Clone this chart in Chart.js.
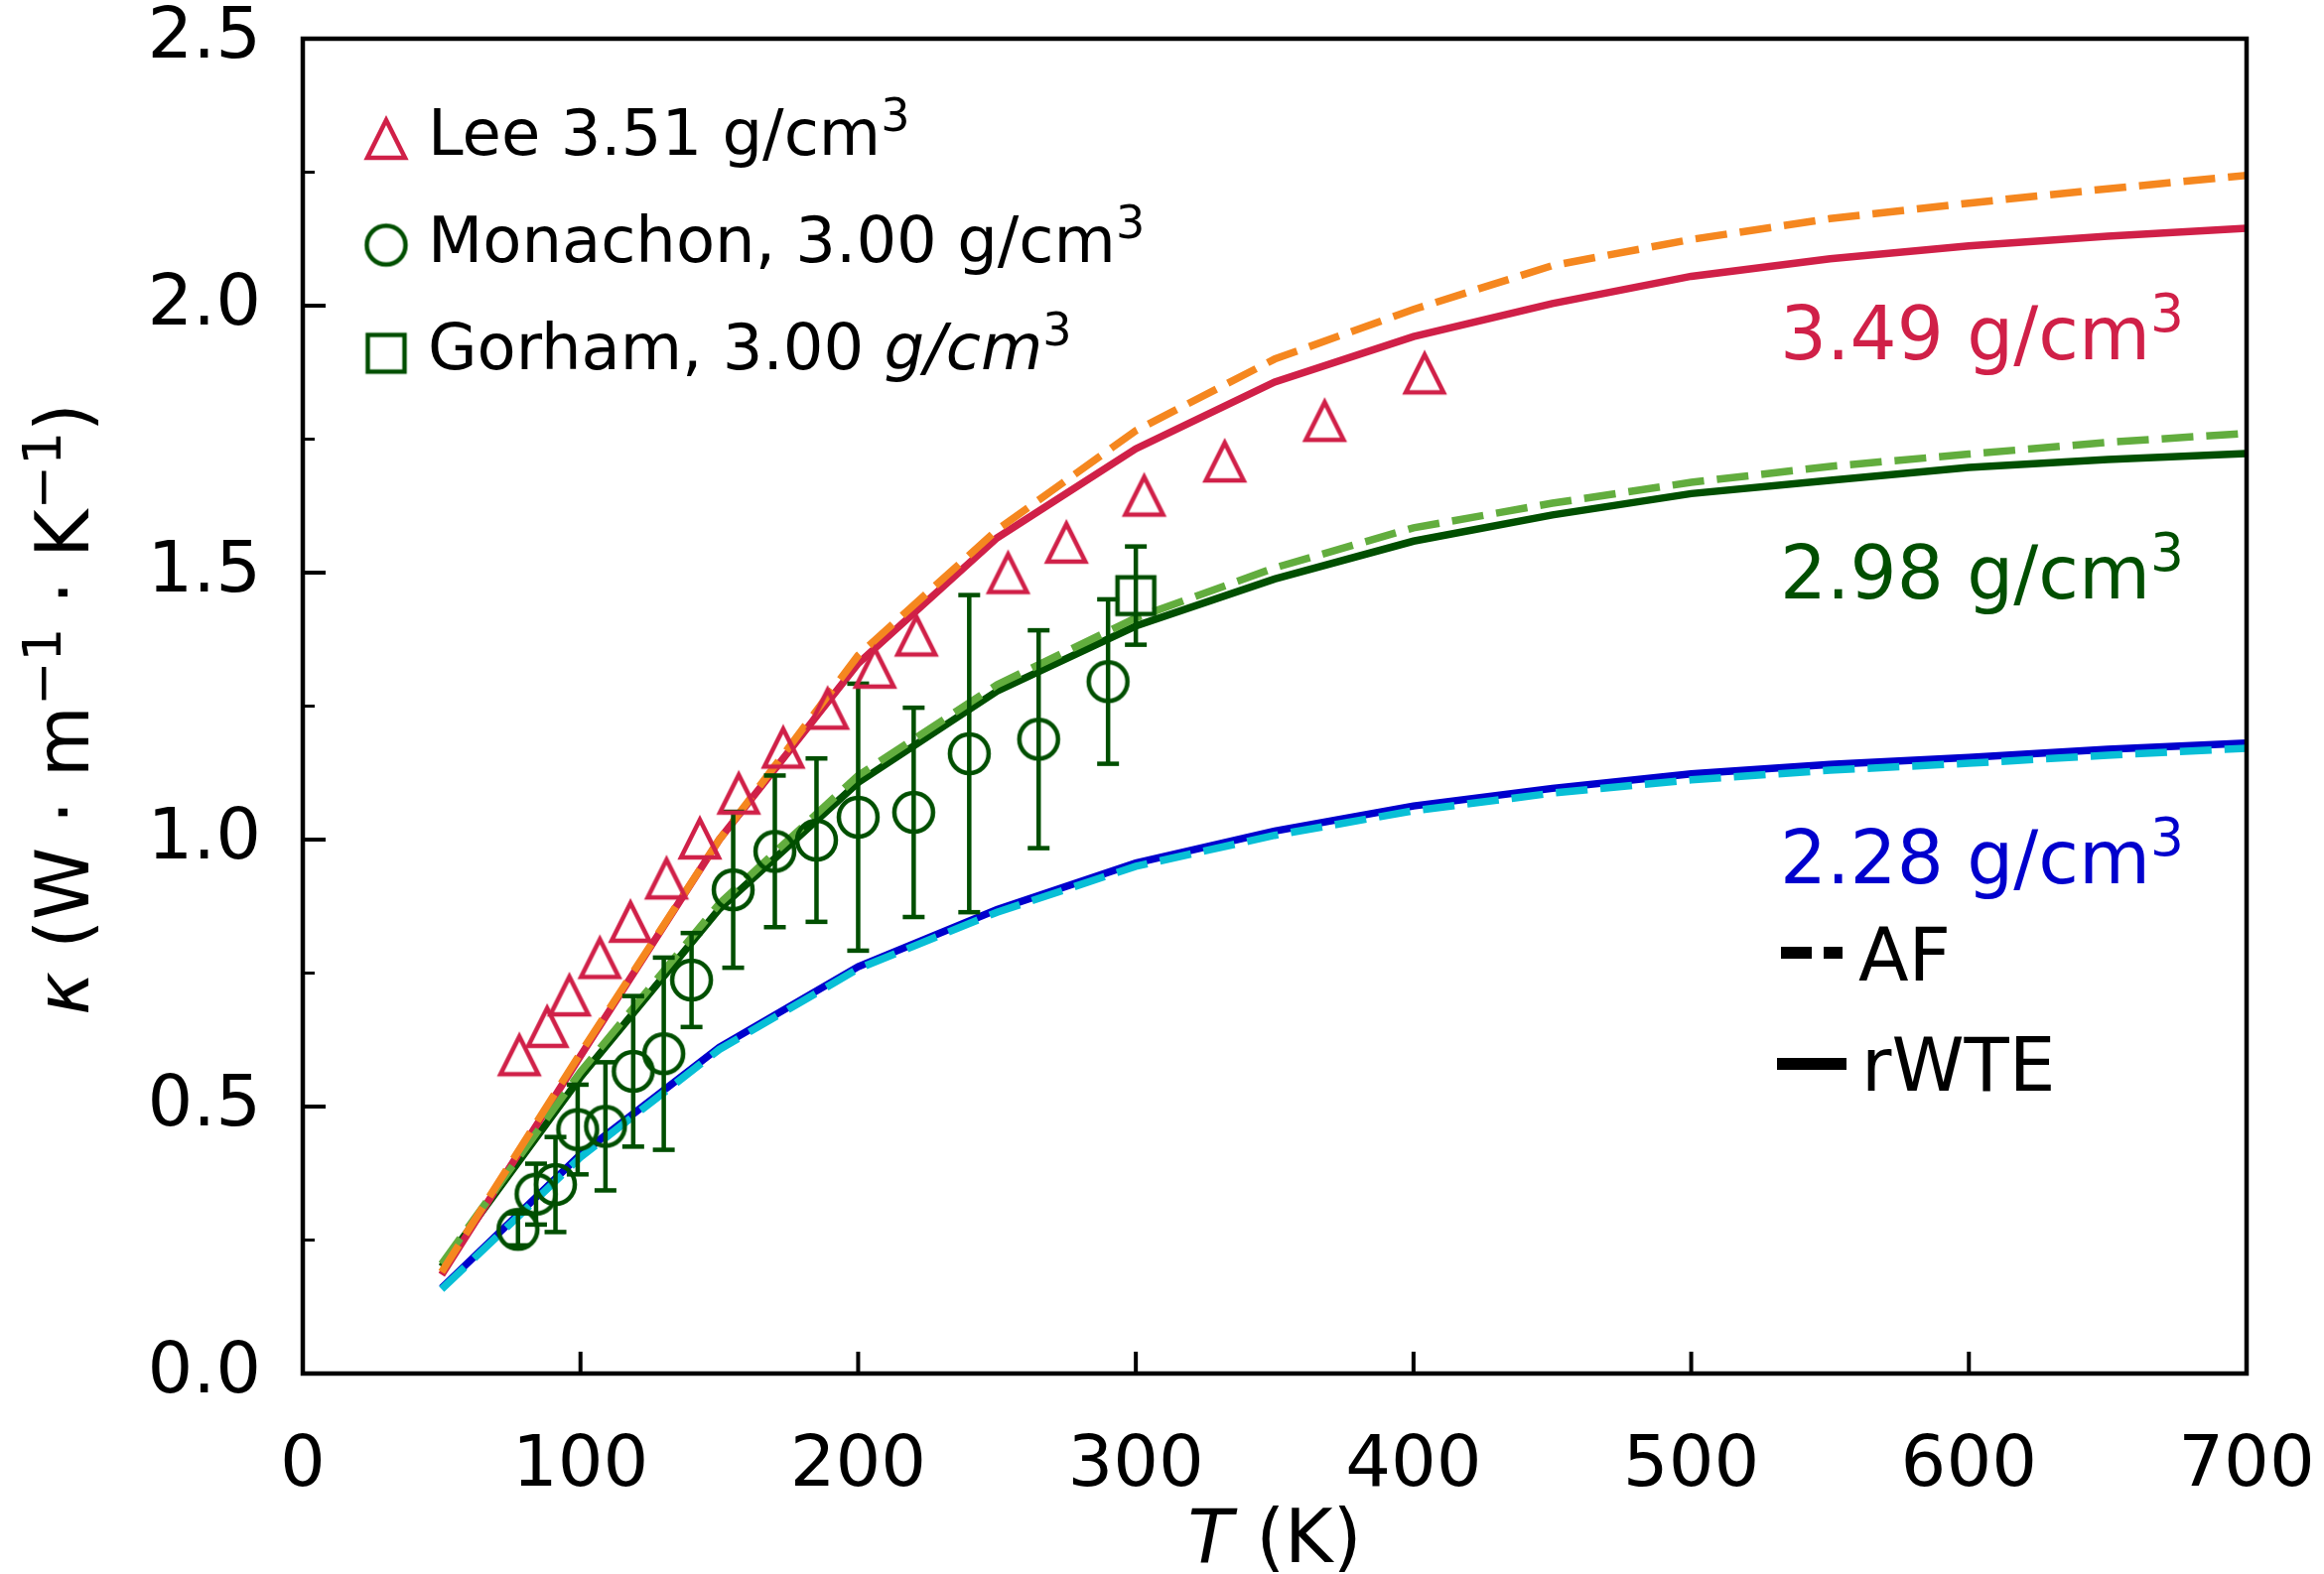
<!DOCTYPE html>
<html>
<head>
<meta charset="utf-8">
<script src="https://cdn.jsdelivr.net/npm/chart.js@4.4.1/dist/chart.umd.min.js"></script>
<style>
  html, body { margin: 0; padding: 0; background: #fff; }
  #wrap { width: 2341px; height: 1586px; }
</style>
</head>
<body>
<div id="wrap"><canvas id="c" width="2341" height="1586"></canvas></div>
<script>
// ── Data ─────────────────────────────────────────────────────────────────────
const tModel = [50, 100, 150, 200, 250, 300, 350, 400, 450, 500, 550, 600, 650, 700];

const k349Rwte = [0.185, 0.595, 1.0, 1.33, 1.565, 1.732, 1.857, 1.942, 2.004, 2.055, 2.088, 2.112, 2.130, 2.145];
const k349Af   = [0.19, 0.60, 1.0, 1.345, 1.58, 1.766, 1.90, 1.993, 2.075, 2.124, 2.163, 2.192, 2.219, 2.244];
const k298Rwte = [0.20, 0.555, 0.87, 1.107, 1.278, 1.40, 1.488, 1.559, 1.608, 1.648, 1.673, 1.697, 1.712, 1.723];
const k298Af   = [0.205, 0.565, 0.88, 1.12, 1.29, 1.415, 1.509, 1.584, 1.630, 1.669, 1.699, 1.722, 1.744, 1.761];
const k228Rwte = [0.16, 0.41, 0.611, 0.762, 0.869, 0.956, 1.016, 1.063, 1.096, 1.123, 1.141, 1.154, 1.169, 1.181];
const k228Af   = [0.158, 0.405, 0.607, 0.758, 0.864, 0.950, 1.008, 1.054, 1.087, 1.112, 1.130, 1.143, 1.158, 1.171];

// Lee 3.51 g/cm3
const leeT = [78, 88, 96, 107, 118, 131, 143, 157, 173, 189, 206, 221, 254, 275, 303, 332, 368, 404];
const leeK = [0.596, 0.649, 0.708, 0.778, 0.846, 0.927, 1.002, 1.086, 1.172, 1.245, 1.322, 1.382,
              1.499, 1.556, 1.644, 1.708, 1.784, 1.873];

// Monachon 3.00 g/cm3
const monT   = [77.5, 84, 91, 99, 109, 119, 130, 140, 155, 170, 185, 200, 220, 240, 265, 290];
const monK   = [0.27, 0.336, 0.354, 0.457, 0.463, 0.566, 0.599, 0.737, 0.906, 0.978, 0.999, 1.042,
                1.051, 1.161, 1.188, 1.296];
const monErr = [0.03, 0.057, 0.089, 0.084, 0.12, 0.141, 0.18, 0.088, 0.146, 0.142, 0.153, 0.25,
                0.196, 0.297, 0.204, 0.154];

// Gorham 3.00 g/cm3
const gorT   = [300];
const gorK   = [1.457];
const gorErr = [0.092];

const xTickValues = [0, 100, 200, 300, 400, 500, 600, 700];
const yTickValues = [0, 0.5, 1.0, 1.5, 2.0, 2.5];
const yMinorValues = [0.25, 0.75, 1.25, 1.75, 2.25];

// ── Styles ───────────────────────────────────────────────────────────────────
const CRIMSON = "#d02048", ORANGE = "#f5871f";
const DKGREEN = "#014f01", LTGREEN = "#62ad3e";
const BLUE = "#0000cd", CYAN = "#08bfd6";
const FONT = "DejaVu Sans";
const DASH = [32, 13];

function markerCanvas(kind, size, color, lw) {
  const c = document.createElement("canvas");
  c.width = c.height = Math.ceil(size + lw * 4);
  const g = c.getContext("2d");
  const m = c.width / 2, h = size / 2;
  g.strokeStyle = color;
  g.lineWidth = lw;
  g.lineJoin = "miter";
  g.beginPath();
  if (kind === "tri") { g.moveTo(m, m - h); g.lineTo(m + h, m + h); g.lineTo(m - h, m + h); g.closePath(); }
  else if (kind === "sq") g.rect(m - h, m - h, size, size);
  else g.arc(m, m, h, 0, Math.PI * 2);
  g.stroke();
  return c;
}

const triMarker = markerCanvas("tri", 38, CRIMSON, 4.5);
const circMarker = markerCanvas("circ", 39, DKGREEN, 4.5);
const sqMarker = markerCanvas("sq", 37, DKGREEN, 4.5);

const xy = (xs, ys) => xs.map((x, i) => ({ x, y: ys[i] }));

function errorBars(xs, ys, es) {
  const out = [];
  xs.forEach((x, i) => {
    out.push({ x, y: ys[i] - es[i] }, { x, y: ys[i] + es[i] }, { x, y: null });
  });
  return out;
}

function lineSet(ys, color, dashed) {
  return {
    data: xy(tModel, ys), borderColor: color, borderWidth: 7.5, borderDash: dashed ? DASH : [],
    pointRadius: 0, fill: false, tension: 0, order: dashed ? 2 : 3
  };
}

function markerSet(xs, ys, style) {
  return {
    data: xy(xs, ys), showLine: false, pointStyle: style, pointRadius: 20, order: 0
  };
}

function errSet(xs, ys, es) {
  return {
    data: errorBars(xs, ys, es), borderColor: DKGREEN, borderWidth: 4.5, spanGaps: false,
    pointStyle: "line", pointRadius: 11, pointBorderWidth: 4.5, pointBorderColor: DKGREEN, order: 1
  };
}

const datasets = [
  lineSet(k349Rwte, CRIMSON, false),
  lineSet(k298Rwte, DKGREEN, false),
  lineSet(k228Rwte, BLUE, false),
  lineSet(k349Af, ORANGE, true),
  lineSet(k298Af, LTGREEN, true),
  lineSet(k228Af, CYAN, true),
  errSet(monT, monK, monErr),
  errSet(gorT, gorK, gorErr),
  markerSet(leeT, leeK, triMarker),
  markerSet(monT, monK, circMarker),
  markerSet(gorT, gorK, sqMarker)
];

// ── Text helpers ─────────────────────────────────────────────────────────────
// parts: [text, style]  style: "" upright, "i" italic, "s" superscript
function richWidth(ctx, parts, size) {
  let w = 0;
  for (const [t, s] of parts) {
    ctx.font = `${s === "i" ? "italic " : ""}${s === "s" ? size * 0.72 : size}px "${FONT}"`;
    w += ctx.measureText(t).width;
  }
  return w;
}

function drawRich(ctx, parts, x, y, size, color) {
  ctx.fillStyle = color;
  ctx.textBaseline = "alphabetic";
  ctx.textAlign = "left";
  let cx = x;
  for (const [t, s] of parts) {
    ctx.font = `${s === "i" ? "italic " : ""}${s === "s" ? size * 0.72 : size}px "${FONT}"`;
    ctx.fillText(t, cx, s === "s" ? y - size * 0.38 : y);
    cx += ctx.measureText(t).width;
  }
}

function seg(ctx, x1, y1, x2, y2) {
  ctx.beginPath(); ctx.moveTo(x1, y1); ctx.lineTo(x2, y2); ctx.stroke();
}

// scales keep the plot box fixed: no extra room for overhanging tick labels
function noPad(s) {
  s.paddingTop = s.paddingBottom = s.paddingLeft = s.paddingRight = 0;
}

// ── Frame, inward ticks, legend, labels ──────────────────────────────────────
const decor = {
  id: "decor",
  afterDraw(chart) {
    const { ctx, chartArea: a, scales: { x, y } } = chart;
    ctx.save();
    ctx.strokeStyle = "#000";
    ctx.lineCap = "butt";

    ctx.lineWidth = 4;
    for (const v of xTickValues) { const px = x.getPixelForValue(v); seg(ctx, px, a.bottom, px, a.bottom - 22); }
    for (const v of yTickValues) { const py = y.getPixelForValue(v); seg(ctx, a.left, py, a.left + 23, py); }
    ctx.lineWidth = 3;
    for (const v of yMinorValues) { const py = y.getPixelForValue(v); seg(ctx, a.left, py, a.left + 12, py); }

    ctx.lineWidth = 4.5;
    ctx.strokeRect(a.left, a.top, a.right - a.left, a.bottom - a.top);

    // legend (top left)
    const legend = [
      [triMarker, 140, 156, [["Lee 3.51 g/cm", ""], ["3", "s"]]],
      [circMarker, 247, 264, [["Monachon, 3.00 g/cm", ""], ["3", "s"]]],
      [sqMarker, 356, 372, [["Gorham, 3.00 ", ""], ["g/cm", "i"], ["3", "s"]]]
    ];
    for (const [mk, my, base, parts] of legend) {
      ctx.drawImage(mk, 389 - mk.width / 2, my - mk.height / 2);
      drawRich(ctx, parts, 431, base, 64, "#000");
    }

    // density annotations
    drawRich(ctx, [["3.49 g/cm", ""], ["3", "s"]], 1793, 362, 74, CRIMSON);
    drawRich(ctx, [["2.98 g/cm", ""], ["3", "s"]], 1793, 603, 74, DKGREEN);
    drawRich(ctx, [["2.28 g/cm", ""], ["3", "s"]], 1793, 890, 74, BLUE);

    // AF / rWTE key
    ctx.fillStyle = "#000";
    ctx.fillRect(1794, 954, 31, 12);
    ctx.fillRect(1837, 954, 19, 12);
    drawRich(ctx, [["AF", ""]], 1872, 988, 74, "#000");
    ctx.fillRect(1790, 1066, 70, 12);
    drawRich(ctx, [["rWTE", ""]], 1875, 1099, 74, "#000");

    // x axis title
    const xt = [["T", "i"], [" (K)", ""]];
    const xw = richWidth(ctx, xt, 74);
    drawRich(ctx, xt, (a.left + a.right) / 2 - xw / 2, 1574, 74, "#000");

    // y axis title
    const yt = [["κ", "i"], [" (W · m", ""], ["−1", "s"], [" · K", ""], ["−1", "s"], [")", ""]];
    const yw = richWidth(ctx, yt, 74);
    ctx.translate(89, (a.top + a.bottom) / 2 + 3);
    ctx.rotate(-Math.PI / 2);
    drawRich(ctx, yt, -yw / 2, 0, 74, "#000");

    ctx.restore();
  }
};

new Chart(document.getElementById("c"), {
  type: "line",
  data: { datasets },
  options: {
    responsive: false,
    devicePixelRatio: 1,
    animation: false,
    events: [],
    layout: { padding: { top: 39, right: 78, left: 0, bottom: 0 } },
    plugins: { legend: { display: false }, tooltip: { enabled: false } },
    scales: {
      x: {
        type: "linear", min: 0, max: 700,
        afterBuildTicks: (s) => { s.ticks = xTickValues.map((v) => ({ value: v })); },
        afterFit: (s) => { s.height = 202; noPad(s); },
        grid: { display: false }, border: { display: false },
        ticks: { font: { family: FONT, size: 72 }, color: "#000", padding: 43, maxRotation: 0, autoSkip: false }
      },
      y: {
        type: "linear", min: 0, max: 2.5,
        afterBuildTicks: (s) => { s.ticks = yTickValues.map((v) => ({ value: v })); },
        afterFit: (s) => { s.width = 305; noPad(s); },
        grid: { display: false }, border: { display: false },
        ticks: {
          font: { family: FONT, size: 72 }, color: "#000", padding: 34, autoSkip: false,
          callback: (v) => Number(v).toFixed(1)
        }
      }
    }
  },
  plugins: [decor]
});
</script>
</body>
</html>
